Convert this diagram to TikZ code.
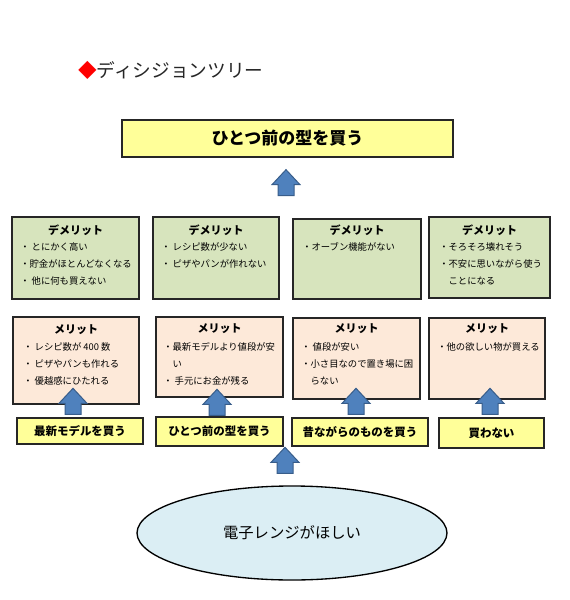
\documentclass[tikz,border=0pt]{standalone}
\usepackage{fontspec}
\setmainfont{Noto Sans CJK JP}
\usetikzlibrary{calc,fit,shapes.geometric}
\definecolor{demgreen}{HTML}{D7E4BD}
\definecolor{merpeach}{HTML}{FDE9D9}
\definecolor{optyellow}{HTML}{FFFF99}
\definecolor{wantblue}{HTML}{DBEEF4}
\definecolor{arrfill}{HTML}{4F81BD}
\definecolor{arrline}{HTML}{385D8A}
\tikzset{
  boxbase/.style={rectangle, draw=black!85, line width=1pt, inner sep=0pt},
  dembox/.style={boxbase, fill=demgreen},
  merbox/.style={boxbase, fill=merpeach},
  optbox/.style={boxbase, fill=optyellow},
  opttext/.style={inner sep=0pt, font=\fontsize{8.6}{10}\selectfont\bfseries},
  headtext/.style={inner sep=0pt, font=\fontsize{8.25}{10}\selectfont\bfseries},
  itemtext/.style={inner sep=0pt, anchor=north west, align=left, font=\fontsize{7}{12.75}\selectfont},
  uparr/.pic={\draw[fill=arrfill, draw=arrline, line width=0.75pt] (-8,0) -- (-8,11) -- (-14,11) -- (0,26) -- (14,11) -- (8,11) -- (8,0) -- cycle;}
}
\begin{document}
\begin{tikzpicture}[x=0.75pt,y=0.75pt,yscale=-1,xscale=1]
        \useasboundingbox (0,0) rectangle (569,600);

        % Title
        \node (title) [anchor=west, inner sep=0pt, text=black!85, font=\fontsize{14}{16}\selectfont] at (78,70) {\textcolor{red}{◆}ディシジョンツリー};

        %Shape: Top box
        \node (top) [boxbase, fill=optyellow, fit={(122,120) (453,157)}] {};
        \node (topt) [inner sep=0pt, font=\fontsize{12.75}{14}\selectfont\bfseries] at (top.center) {ひとつ前の型を買う};

        %Shape: Demerit boxes
        \node (dem1) [dembox, fit={(12,217) (139,299)}] {};
        \node (dem2) [dembox, fit={(153,217) (279,299)}] {};
        \node (dem3) [dembox, fit={(293,219) (421,299)}] {};
        \node (dem4) [dembox, fit={(429,217) (550,298)}] {};

        %Shape: Merit boxes
        \node (mer1) [merbox, fit={(13,317) (139,404)}] {};
        \node (mer2) [merbox, fit={(156,317) (283,397)}] {};
        \node (mer3) [merbox, fit={(293,318) (420,399)}] {};
        \node (mer4) [merbox, fit={(429,318) (545,399)}] {};

        %Shape: Choice boxes
        \node (opt1) [optbox, fit={(17,418) (143,444)}] {};
        \node (opt2) [optbox, fit={(156,417) (283,446)}] {};
        \node (opt3) [optbox, fit={(292,418) (428,446)}] {};
        \node (opt4) [optbox, fit={(439,418) (544,448)}] {};
        \node (opt1t) [opttext] at (opt1.center) {最新モデルを買う};
        \node (opt2t) [opttext] at (opt2.center) {ひとつ前の型を買う};
        \node (opt3t) [opttext] at (opt3.center) {昔ながらのものを買う};
        \node (opt4t) [opttext] at (opt4.center) {買わない};

        %Shape: Ellipse
        \node (want) [ellipse, draw=black, line width=1pt, fill=wantblue, minimum width=232.5pt, minimum height=70.5pt, inner sep=0pt, font=\fontsize{11.5}{13}\selectfont] at (292,533) {電子レンジがほしい};

        % Text Node
        \node (dem1h) [headtext] at (75.5,230) {デメリット};
        \node (dem2h) [headtext] at (216,230) {デメリット};
        \node (dem3h) [headtext] at (357,230) {デメリット};
        \node (dem4h) [headtext] at (489.5,230) {デメリット};
        \node (mer1h) [headtext] at (76,330) {メリット};
        \node (mer2h) [headtext] at (219.5,329) {メリット};
        \node (mer3h) [headtext] at (356.5,329) {メリット};
        \node (mer4h) [headtext] at (487,329) {メリット};

        % Text Node
        \node (dem1t) [itemtext] at (20,242) {・ とにかく高い\\・貯金がほとんどなくなる\\・ 他に何も買えない};
        \node (dem2t) [itemtext] at (161,242) {・ レシピ数が少ない\\・ ピザやパンが作れない};
        \node (dem3t) [itemtext] at (302,242) {・オーブン機能がない};
        \node (dem4t) [itemtext] at (439,242) {・そろそろ壊れそう\\・不安に思いながら使う\\\phantom{・}ことになる};
        \node (mer1t) [itemtext] at (23,342) {・ レシピ数が 400 数\\・ ピザやパンも作れる\\・ 優越感にひたれる};
        \node (mer2t) [itemtext] at (163,342) {・最新モデルより値段が安\\\phantom{・}い\\・ 手元にお金が残る};
        \node (mer3t) [itemtext] at (301,342) {・ 値段が安い\\・小さ目なので置き場に困\\\phantom{・}らない};
        \node (mer4t) [itemtext] at (437,342) {・他の欲しい物が買える};

        %Block arrows
        \pic at ($(top.south)+(-1.5,38)$) {uparr};
        \pic at ($(opt1.north)+(-7,-3)$) {uparr};
        \pic at ($(opt2.north)+(-2.5,-1)$) {uparr};
        \pic at ($(opt3.north)+(-4,-3)$) {uparr};
        \pic at ($(opt4.north)+(-1.5,-3)$) {uparr};
        \pic at ($(want.north)+(-7,-12)$) {uparr};
\end{tikzpicture}
\end{document}
